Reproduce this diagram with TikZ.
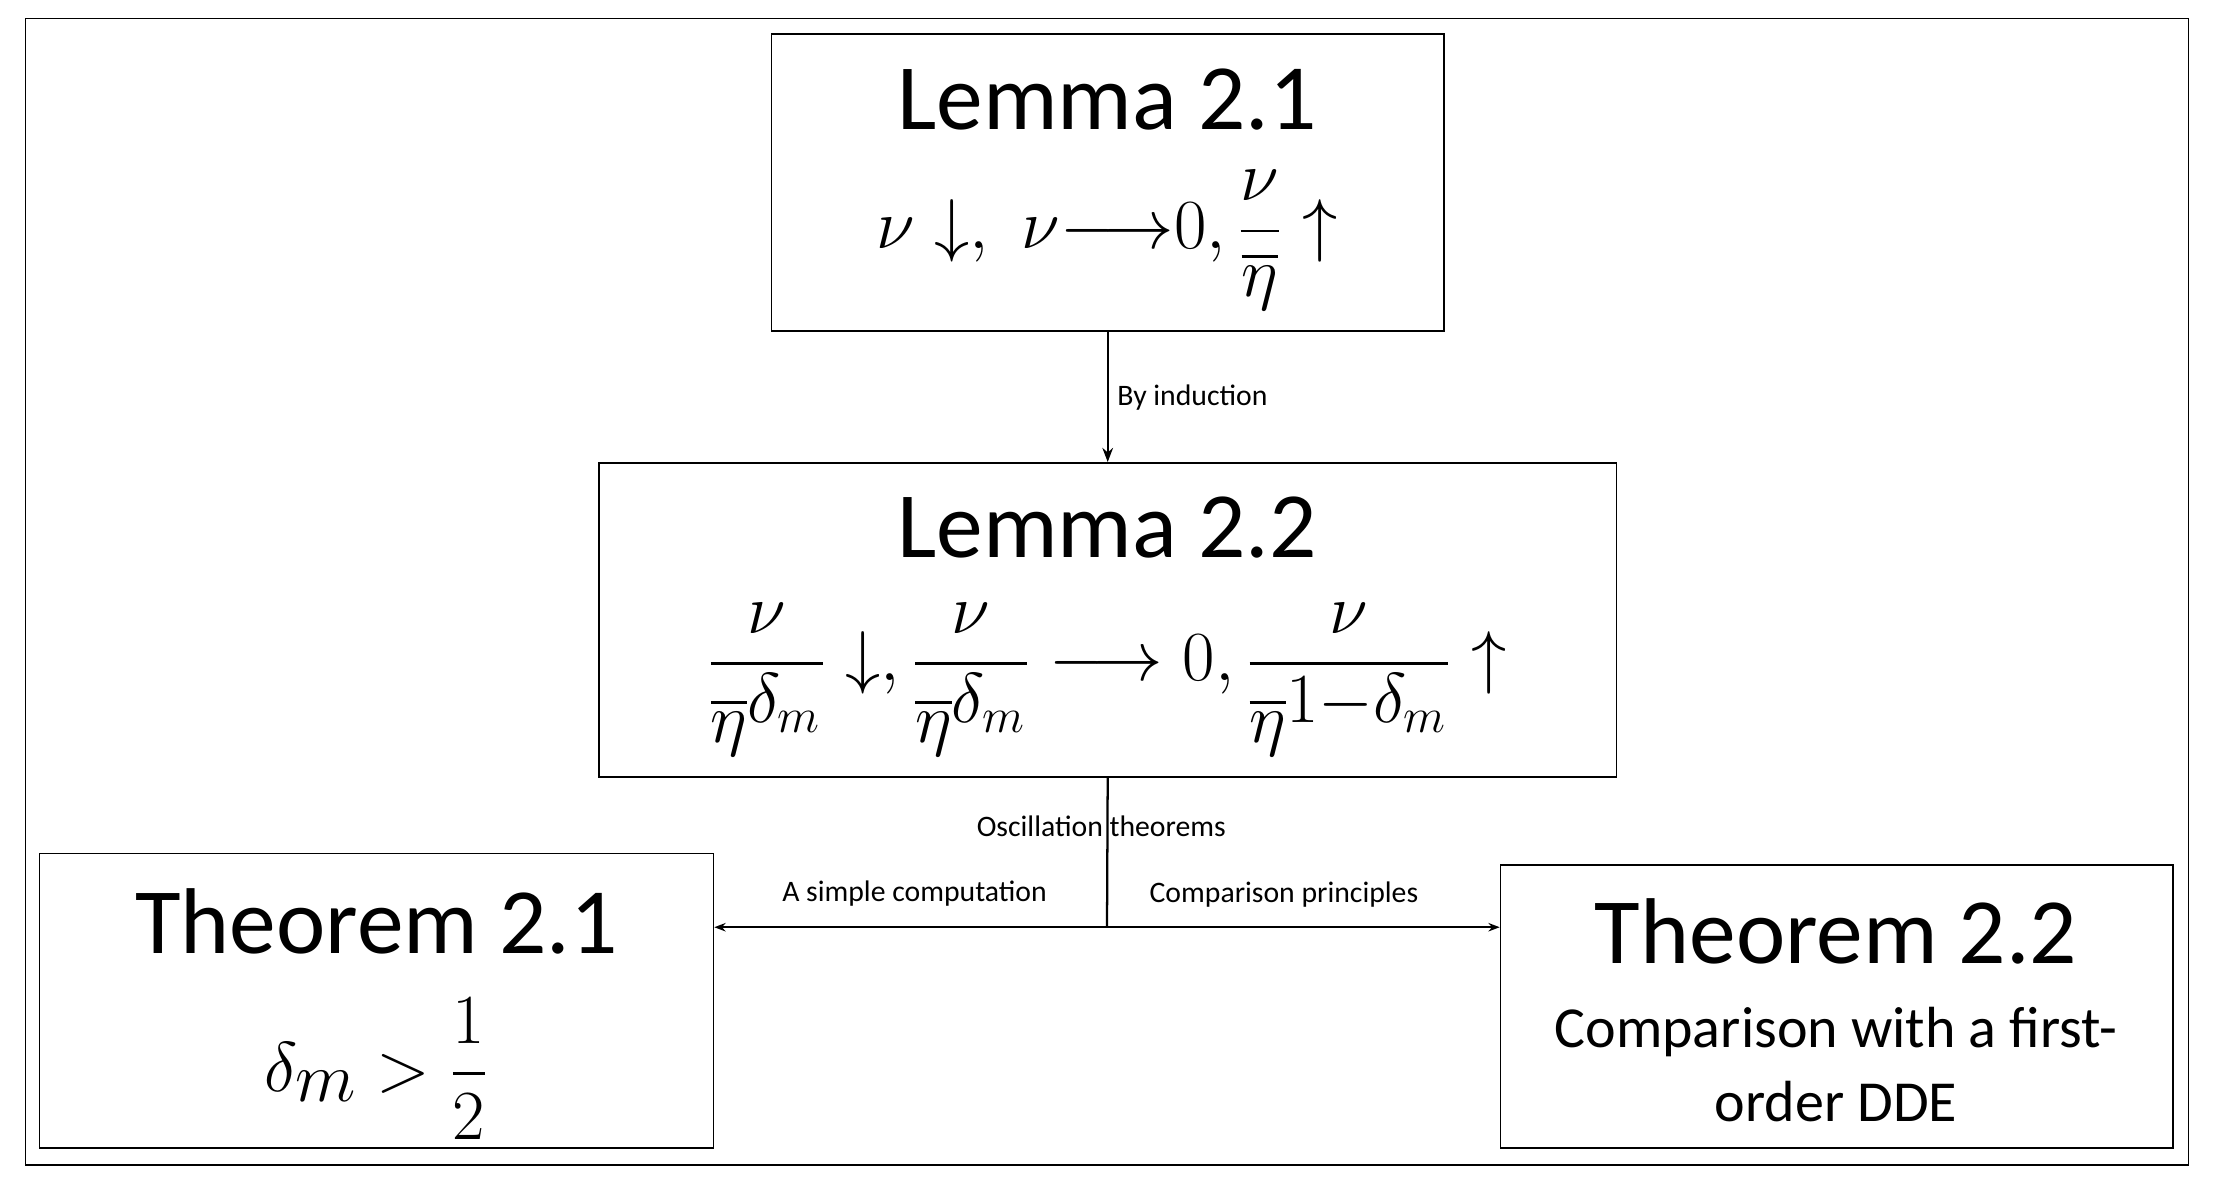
\documentclass[tikz,border=0pt]{standalone}
\usepackage{amsmath}
\usepackage{fontspec}
\setmainfont{Carlito}
\usetikzlibrary{arrows.meta}
\begin{document}
\begin{tikzpicture}[x=0.5pt,y=-0.5pt,
  box/.style={draw,line width=0.6pt,inner sep=0pt,align=center},
  lbl/.style={font=\fontsize{10.5}{12}\selectfont,inner sep=1pt},
  big/.style={font=\fontsize{33}{36}\selectfont}]
\fill[white] (0,0) rectangle (1564,840);
\useasboundingbox (0,0) rectangle (1564,840);
\node[draw,line width=0.6pt,minimum width=764pt,minimum height=405pt] (frame) at (782,418) {};
\node[box,minimum width=237.5pt,minimum height=105pt] (l1) at (782.5,129) {};
\node[big] (l1t) at (782,70) {Lemma 2.1};
\node[font=\fontsize{33}{36}\selectfont] (l1m) at (782,170) {$\nu\downarrow,\ \nu{\longrightarrow}0,\dfrac{\nu}{\overline{\eta}}\uparrow$};
\node[box,minimum width=359.5pt,minimum height=111pt] (l2) at (782.5,438) {};
\node[big] (l2t) at (782,373) {Lemma 2.2};
\node[font=\fontsize{33}{36}\selectfont] (l2m) at (782,480) {$\dfrac{\nu}{\overline{\eta}^{\delta_m}}\downarrow,\dfrac{\nu}{\overline{\eta}^{\delta_m}}\longrightarrow 0,\dfrac{\nu}{\overline{\eta}^{1-\delta_m}}\uparrow$};
\node[box,minimum width=238pt,minimum height=104pt] (t1) at (266,707) {};
\node[big] (t1t) at (266,651) {Theorem 2.1};
\node[font=\fontsize{36}{40}\selectfont] (t1m) at (266,755) {$\delta_m>\dfrac{1}{2}$};
\node[box,minimum width=237.5pt,minimum height=100pt] (t2) at (1297.5,711) {};
\node[big] (t2t) at (1297,658) {Theorem 2.2};
\node[font=\fontsize{20.5}{26}\selectfont,align=center] (t2b) at (1297,752) {Comparison with a first-\\order DDE};
\draw[-{Stealth[length=5pt]},line width=0.8pt] (l1.south) -- (l2.north) node[midway,right,lbl,xshift=2pt] (bi) {By induction};
\coordinate (j) at (782,655);
\draw[line width=0.8pt] (l2.south) -- (j);
\draw[-{Stealth[length=4pt]},line width=0.6pt] (j) -- (j -| t1.east);
\draw[-{Stealth[length=4pt]},line width=0.6pt] (j) -- (j -| t2.west);
\node[lbl] (osc) at (778,584) {Oscillation theorems};
\node[lbl] (simp) at (646,631) {A simple computation};
\node[lbl] (comp) at (907,632) {Comparison principles};
\end{tikzpicture}
\end{document}
